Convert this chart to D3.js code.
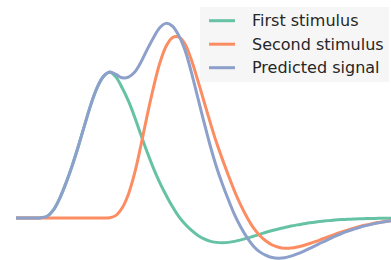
<html>
<head>
<script src="https://d3js.org/d3.v7.min.js"></script>
<style>
body { margin: 0; background: #fff; }
svg { display: block; }
</style>
</head>
<body>
<div id="chart"></div>
<script>
// time in seconds (0.5 s steps)
var times = d3.range(0, 30.5, 0.5);

var firstStim = [0,0,0,0,0.002,0.012,0.055,0.135,0.24,0.36,0.495,0.64,0.78,0.895,0.97,0.998,
  0.965,0.89,0.80,0.69,0.568,0.45,0.34,0.243,0.158,0.08,0.013,-0.04,-0.082,-0.116,
  -0.141,-0.158,-0.167,-0.17,-0.167,-0.16,-0.15,-0.138,-0.125,-0.112,-0.098,-0.086,-0.075,
  -0.065,-0.055,-0.047,-0.04,-0.033,-0.027,-0.022,-0.018,-0.014,-0.011,-0.009,-0.007,-0.005,
  -0.004,-0.003,-0.002,-0.002,-0.001];

var secondStim = [0,0,0,0,0,0,0,0,0,0,0,0,0,0,0,0.002,
  0.018,0.07,0.165,0.31,0.5,0.705,0.895,1.06,1.175,1.235,1.24,1.195,1.09,0.955,
  0.81,0.665,0.527,0.405,0.29,0.18,0.085,0.002,-0.068,-0.12,-0.158,-0.185,-0.2,
  -0.207,-0.206,-0.199,-0.188,-0.175,-0.16,-0.144,-0.128,-0.112,-0.097,-0.083,-0.07,-0.058,
  -0.048,-0.039,-0.031,-0.024,-0.018];

var predicted = [0,0,0,0,0.002,0.012,0.055,0.135,0.24,0.36,0.495,0.64,0.78,0.895,0.97,1.0,
  0.983,0.96,0.965,1.0,1.068,1.155,1.235,1.303,1.333,1.315,1.253,1.155,1.008,0.839,
  0.669,0.507,0.36,0.235,0.123,0.02,-0.065,-0.136,-0.193,-0.232,-0.256,-0.271,-0.275,
  -0.272,-0.261,-0.246,-0.228,-0.208,-0.187,-0.166,-0.146,-0.126,-0.108,-0.092,-0.077,-0.063,
  -0.052,-0.042,-0.033,-0.026,-0.019];

var labels = ["First stimulus", "Second stimulus", "Predicted signal"];
var colors = ["#66c2a5", "#fc8d62", "#8da0cb"];
var series = [firstStim, secondStim, predicted];

var width = 391, height = 260;

var svg = d3.select("#chart").append("svg")
  .attr("width", width).attr("height", height);

var x = d3.scaleLinear().domain([0, 30]).range([16, 391]);
var y = d3.scaleLinear().domain([0, 1]).range([218, 72]);

var line = d3.line()
  .x(function(d, i) { return x(times[i]); })
  .y(function(d) { return y(d); })
  .curve(d3.curveCatmullRom);

series.forEach(function(s, i) {
  svg.append("path")
    .datum(s)
    .attr("d", line)
    .attr("fill", "none")
    .attr("stroke", colors[i])
    .attr("stroke-width", 3);
});

// legend
var lg = svg.append("g").attr("transform", "translate(200,7)");
lg.append("rect")
  .attr("width", 189).attr("height", 75)
  .attr("fill", "#f5f5f5").attr("fill-opacity", 0.85);

labels.forEach(function(l, i) {
  var yy = 13.7 + i * 23.5;
  lg.append("line")
    .attr("x1", 9).attr("x2", 35)
    .attr("y1", yy).attr("y2", yy)
    .attr("stroke", colors[i]).attr("stroke-width", 3);
  lg.append("text")
    .attr("x", 52).attr("y", yy + 5.5)
    .style("font-family", "DejaVu Sans")
    .style("font-size", "16px")
    .style("fill", "#262626")
    .text(l);
});
</script>
</body>
</html>
